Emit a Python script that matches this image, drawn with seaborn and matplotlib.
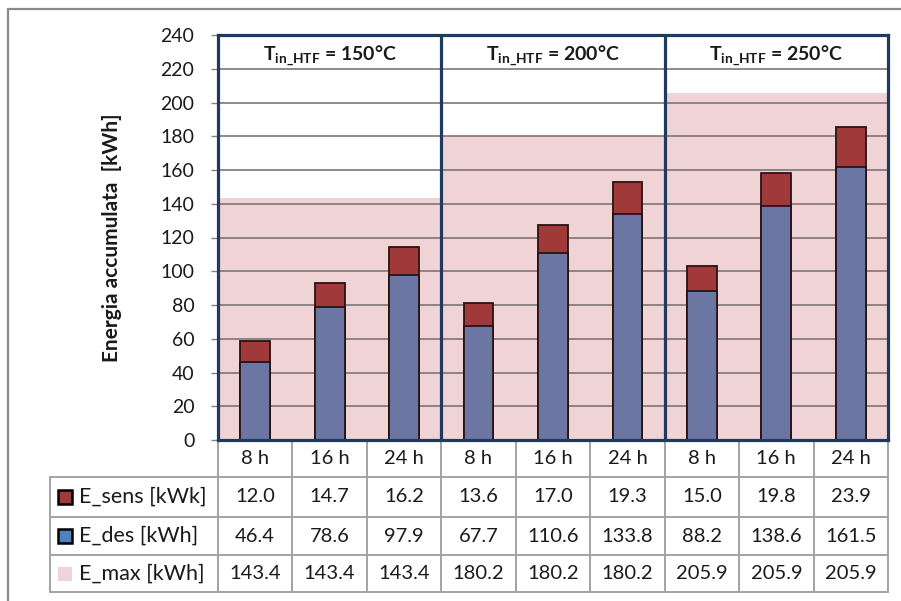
import matplotlib
matplotlib.use("Agg")
import matplotlib.pyplot as plt
from matplotlib.patches import Rectangle
from matplotlib.lines import Line2D
import seaborn as sns
import pandas as pd

# ---------------- data ----------------
temps = ["150°C", "200°C", "250°C"]
hours = ["8 h", "16 h", "24 h"]
e_sens = [12.0, 14.7, 16.2, 13.6, 17.0, 19.3, 15.0, 19.8, 23.9]
e_des = [46.4, 78.6, 97.9, 67.7, 110.6, 133.8, 88.2, 138.6, 161.5]
e_max = [143.4, 143.4, 143.4, 180.2, 180.2, 180.2, 205.9, 205.9, 205.9]
row_labels = ["E_sens [kWk]", "E_des [kWh]", "E_max [kWh]"]
y_ticks = [0, 20, 40, 60, 80, 100, 120, 140, 160, 180, 200, 220, 240]

cols = [f"{t}|{h}" for t in temps for h in hours]
col_hours = [h for t in temps for h in hours]
df = pd.DataFrame({"col": cols, "sens": e_sens, "des": e_des, "max": e_max})
df["total"] = df["sens"] + df["des"]

# ---------------- style ----------------
sns.set_style("white")
FONT = ["Lato", "DejaVu Sans"]
plt.rcParams["font.family"] = FONT
plt.rcParams["mathtext.fontset"] = "custom"
plt.rcParams["mathtext.rm"] = "Lato"
plt.rcParams["mathtext.bf"] = "Lato:bold"

RED = "#A03A3A"
BLUE = "#6B76A3"
PINK = "#F0D3D4"
NAVY = "#1F3A5C"
EDGE = "#2A1212"
GRID = "#858585"
TBL = "#A3A3A3"
TXT = "#1a1a1a"

W, H = 901, 601
fig = plt.figure(figsize=(W / 100, H / 100), dpi=100)
fig.patch.set_facecolor("white")
ax = fig.add_axes([218 / W, 1 - 440 / H, 670 / W, 405 / H])

# background E_max bars
sns.barplot(data=df, x="col", y="max", order=cols, color=PINK, saturation=1,
            width=1.0, linewidth=0, edgecolor=PINK, ax=ax)
n_pink = len(ax.patches)
# total (sens + des) bar, red
sns.barplot(data=df, x="col", y="total", order=cols, color=RED, saturation=1,
            width=0.4, linewidth=1.3, edgecolor=EDGE, ax=ax)
# des bar, blue, on top
sns.barplot(data=df, x="col", y="des", order=cols, color=BLUE, saturation=1,
            width=0.4, linewidth=1.3, edgecolor=EDGE, ax=ax)
for i, p in enumerate(ax.patches):
    p.set_zorder(1 if i < n_pink else 2)

ax.set_xlim(-0.5, len(cols) - 0.5)
ax.set_ylim(0, 240)
ax.set_yticks(y_ticks)
ax.set_yticklabels([str(v) for v in y_ticks], fontsize=14, color=TXT)
ax.tick_params(axis="y", length=5, width=1, color=GRID, pad=12, left=True)
ax.set_xticks([])
ax.set_xlabel("")
for v in y_ticks[1:]:
    ax.axhline(v, color="#7a7272", lw=1.3, zorder=1.5, alpha=0.9)

for s in ax.spines.values():
    s.set_color(NAVY)
    s.set_linewidth(2.3)
    s.set_zorder(4)
for xb in (2.5, 5.5):
    ax.axvline(xb, color=NAVY, lw=2.3, zorder=4)

# panel titles
for k, t in enumerate(temps):
    ax.text(3 * k + 1, 228, r"$\mathbf{T}_{\mathbf{in\_HTF}}$" + f" = {t}",
            ha="center", va="center", fontsize=14, fontweight="bold", color=TXT)

ylab = ax.set_ylabel("Energia accumulata  [kWh]", fontsize=15,
                     fontweight="bold", color=TXT, va="center")
ax.yaxis.set_label_coords((112 - 218) / 670, 0.5)

# ---------------- data table ----------------
tr = ax.transAxes
x_left = (50 - 218) / 670
ncol = len(cols)
y_rows = [(440 - yp) / 405 for yp in (477, 517, 555, 592)]
y_bottom = y_rows[-1]
lkw = dict(color=TBL, lw=1.4, transform=tr, clip_on=False, zorder=3)
for j in range(ncol + 1):
    ax.add_line(Line2D([j / ncol] * 2, [0, y_bottom], **lkw))
ax.add_line(Line2D([x_left] * 2, [y_rows[0], y_bottom], **lkw))
for yr in y_rows:
    ax.add_line(Line2D([x_left, 1], [yr, yr], **lkw))

# header labels
y_head = (440 - 459) / 405
for j, h in enumerate(col_hours):
    ax.text((j + 0.5) / ncol, y_head, h, transform=tr, ha="center", va="center",
            fontsize=14.5, color=TXT)

row_vals = [e_sens, e_des, e_max]
row_y = [(440 - yp) / 405 for yp in (497, 536, 573.5)]
for r, (lab, vals, yc) in enumerate(zip(row_labels, row_vals, row_y)):
    for j, v in enumerate(vals):
        ax.text((j + 0.5) / ncol, yc, f"{v:.1f}", transform=tr, ha="center",
                va="center", fontsize=14.5, color=TXT)
    ax.text((79 - 218) / 670, yc, lab, transform=tr, ha="left", va="center",
            fontsize=15.5, color=TXT)

# legend keys in the table
kw_px, kh_px = 14, 14
key_specs = [(RED, "black", 1.8), ("#4F81BD", "black", 1.8), (PINK, PINK, 0)]
for (fc, ec, lw), yc in zip(key_specs, row_y):
    ax.add_patch(Rectangle(((58 - 218) / 670, yc - (kh_px / 2) / 405),
                           kw_px / 670, kh_px / 405, transform=tr,
                           facecolor=fc, edgecolor=ec, lw=lw, clip_on=False,
                           zorder=3))

# outer chart border (top and left visible)
fig.add_artist(Line2D([8 / W, 1], [1 - 9 / H] * 2, transform=fig.transFigure,
                      color="#8a8a8a", lw=1.6))
fig.add_artist(Line2D([8 / W] * 2, [0, 1 - 9 / H], transform=fig.transFigure,
                      color="#8a8a8a", lw=1.6))

fig.savefig("out.png", dpi=100, facecolor="white")
